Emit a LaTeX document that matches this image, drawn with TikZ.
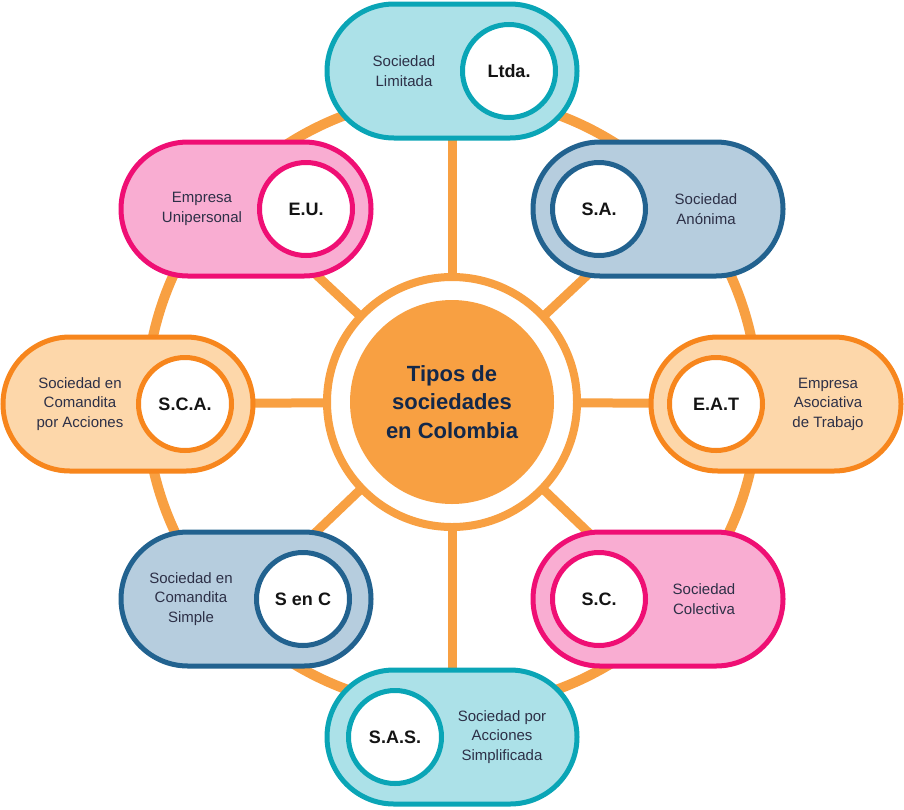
\documentclass[tikz,border=0pt]{standalone}
\usepackage{fontspec}
\setmainfont{Liberation Sans}
\usetikzlibrary{shapes.misc}
\pgfdeclarelayer{background}
\pgfsetlayers{background,main}
\definecolor{ringor}{HTML}{F8A042}
\definecolor{tealD}{HTML}{0AA5B6}
\definecolor{tealL}{HTML}{ACE1E8}
\definecolor{blueD}{HTML}{22628F}
\definecolor{blueL}{HTML}{B6CDDE}
\definecolor{pinkD}{HTML}{EF0F74}
\definecolor{pinkL}{HTML}{F9ADD2}
\definecolor{orD}{HTML}{F7861D}
\definecolor{orL}{HTML}{FDD7AA}
\definecolor{txt}{HTML}{2D3047}
\definecolor{navy}{HTML}{13284A}
\tikzset{
  box/.style={rounded rectangle, minimum width=250pt, minimum height=134pt, line width=5pt, inner sep=0pt},
  tealbox/.style={box, draw=tealD, fill=tealL},
  bluebox/.style={box, draw=blueD, fill=blueL},
  pinkbox/.style={box, draw=pinkD, fill=pinkL},
  orbox/.style={box, draw=orD, fill=orL},
  badge/.style={circle, minimum size=93pt, line width=5pt, fill=white, inner sep=0pt, text=black!92,
    font=\fontsize{18}{22}\selectfont\bfseries},
  lbl/.style={align=center, text=txt, font=\fontsize{15}{19.5}\selectfont, inner sep=0pt},
  spoke/.style={ringor, line width=9pt},
}
\begin{document}
\begin{tikzpicture}[x=1pt,y=-1pt]
\useasboundingbox (0,0) rectangle (904,809);
% centre
\node[circle, minimum size=250pt, line width=8pt, draw=ringor, fill=white] (hub) at (452,402) {};
\node[circle, minimum size=204pt, fill=ringor, text=navy, align=center,
  font=\fontsize{22}{28.5}\selectfont\bfseries] (core) at (452,402) {Tipos de\\sociedades\\en Colombia};
% boxes
\node[tealbox] (ltda) at (452,71) {};
\node[badge, draw=tealD] (ltdaB) at (509,71) {Ltda.};
\node[lbl] (ltdaL) at (404,71) {Sociedad\\Limitada};

\node[bluebox] (sa) at (658,209) {};
\node[badge, draw=blueD] (saB) at (599,209) {S.A.};
\node[lbl] (saL) at (706,209) {Sociedad\\Anónima};

\node[pinkbox] (eu) at (246,209) {};
\node[badge, draw=pinkD] (euB) at (306,209) {E.U.};
\node[lbl] (euL) at (202,209) {Empresa\\Unipersonal};

\node[orbox] (sca) at (128,404) {};
\node[badge, draw=orD] (scaB) at (185,404) {S.C.A.};
\node[lbl] (scaL) at (80,404) {Sociedad en\\Comandita\\por Acciones};

\node[orbox] (eat) at (776,404) {};
\node[badge, draw=orD] (eatB) at (716,404) {E.A.T};
\node[lbl] (eatL) at (828,404) {Empresa\\Asociativa\\de Trabajo};

\node[bluebox] (sc1) at (246,599) {};
\node[badge, draw=blueD] (sc1B) at (303,599) {S en C};
\node[lbl] (sc1L) at (191,599) {Sociedad en\\Comandita\\Simple};

\node[pinkbox] (sc2) at (658,599) {};
\node[badge, draw=pinkD] (sc2B) at (599,599) {S.C.};
\node[lbl] (sc2L) at (704,599) {Sociedad\\Colectiva};

\node[tealbox] (sas) at (452,737) {};
\node[badge, draw=tealD] (sasB) at (395,737) {S.A.S.};
\node[lbl] (sasL) at (502,737) {Sociedad por\\Acciones\\Simplificada};

\begin{pgfonlayer}{background}
  \draw[ringor, line width=10pt] (hub.center) circle[radius=306];
  \foreach \b in {ltda,sa,eu,sca,eat,sc1,sc2,sas}
    \draw[spoke] (hub.center) -- (\b.center);
\end{pgfonlayer}
\end{tikzpicture}
\end{document}
